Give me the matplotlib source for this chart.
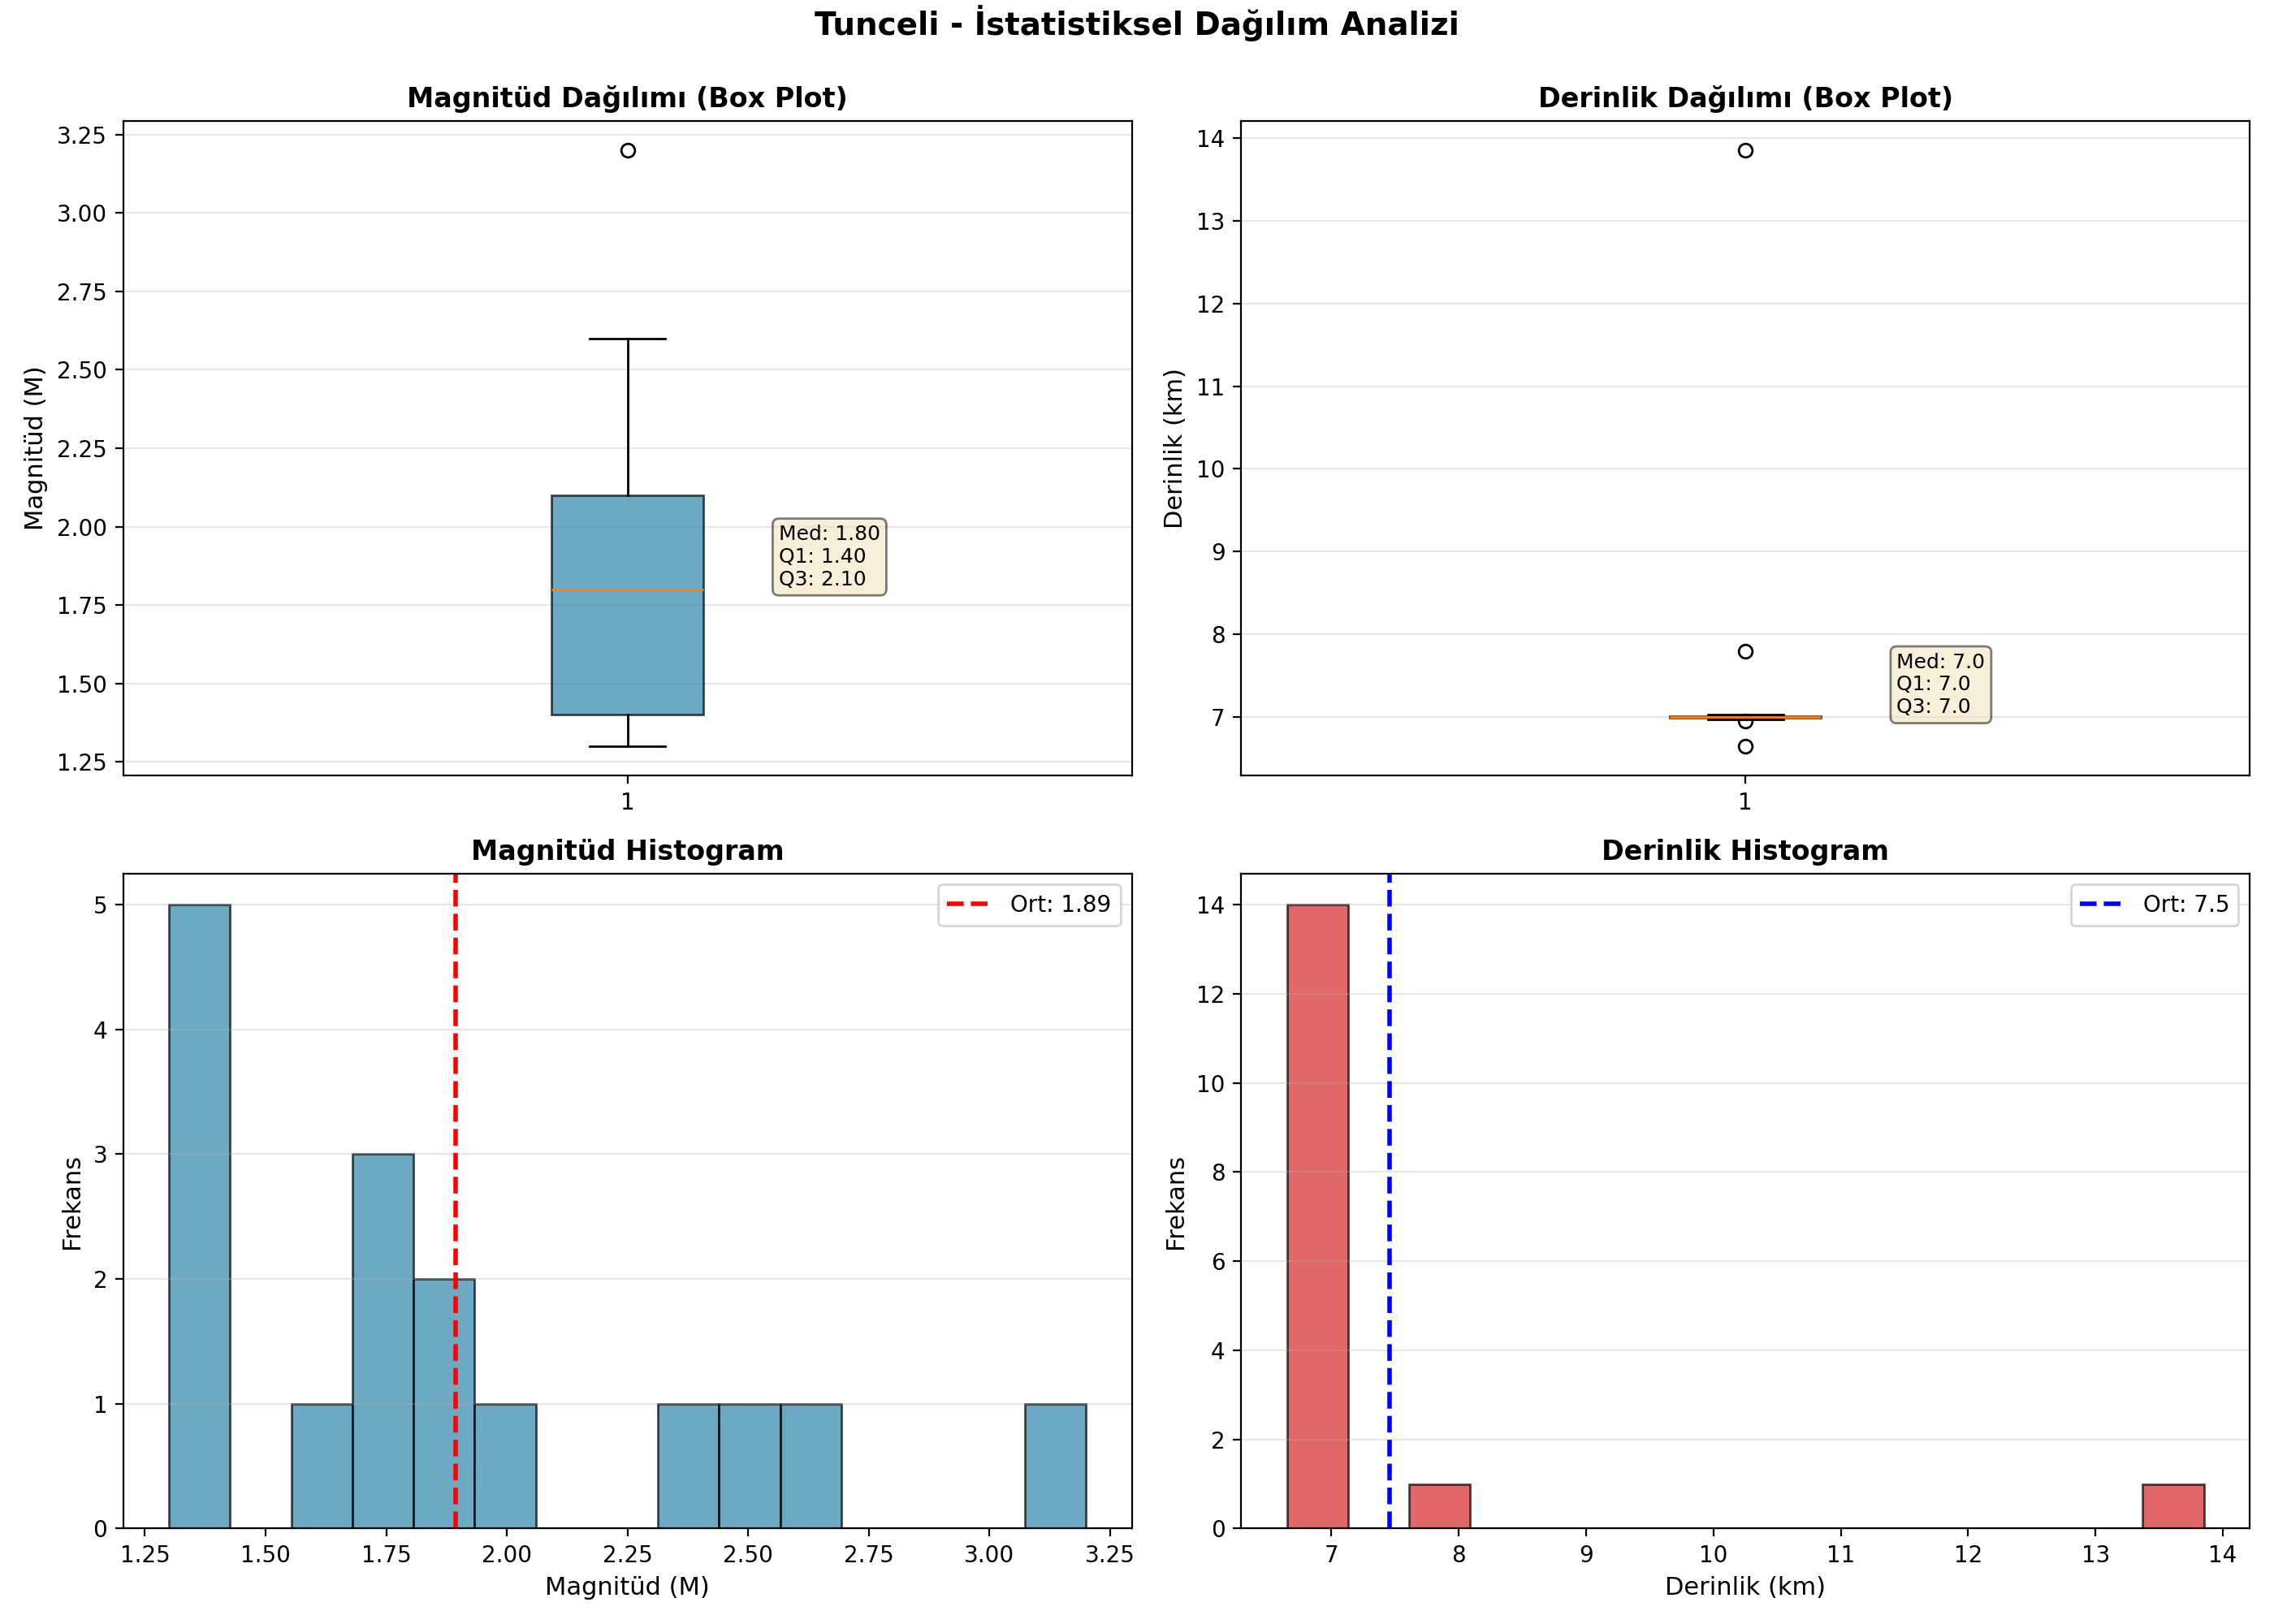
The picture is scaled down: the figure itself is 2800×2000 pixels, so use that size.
import matplotlib
matplotlib.use("Agg")
import matplotlib.pyplot as plt
import numpy as np

city = "Tunceli"
magnitudes = [1.3, 1.3, 1.4, 1.4, 1.4, 1.6, 1.8, 1.8, 1.8, 1.9, 1.9, 2.0, 2.4, 2.5, 2.6, 3.2]
depths = [6.65, 6.95, 6.97, 6.99, 6.99, 7.0, 7.0, 7.0, 7.0, 7.0, 7.0, 7.01, 7.01, 7.035, 7.8, 13.85]

mag = np.array(magnitudes)
dep = np.array(depths)

fig, axes = plt.subplots(2, 2, figsize=(14, 10), dpi=200)
st = fig.suptitle(f"{city} - İstatistiksel Dağılım Analizi", fontsize=14, fontweight="bold")

def box(ax, data, color, title, ylabel, fmt):
    bp = ax.boxplot(data, patch_artist=True, widths=0.15)
    for p in bp["boxes"]:
        p.set_facecolor(color)
        p.set_alpha(0.7)
    ax.set_title(title, fontsize=12, fontweight="bold")
    ax.set_ylabel(ylabel, fontsize=11)
    ax.grid(True, axis="y", alpha=0.3)
    q1, med, q3 = np.percentile(data, [25, 50, 75])
    ax.text(1.15, med, f"Med: {med:{fmt}}\nQ1: {q1:{fmt}}\nQ3: {q3:{fmt}}",
            fontsize=9, va="bottom", ha="left",
            bbox=dict(boxstyle="round", facecolor="wheat", alpha=0.5))

box(axes[0, 0], mag, "#2E86AB", "Magnitüd Dağılımı (Box Plot)", "Magnitüd (M)", ".2f")
box(axes[0, 1], dep, "#2E86AB", "Derinlik Dağılımı (Box Plot)", "Derinlik (km)", ".1f")

def hist(ax, data, color, lcolor, title, xlabel, fmt):
    ax.hist(data, bins=15, color=color, alpha=0.7, edgecolor="black")
    m = data.mean()
    ax.axvline(m, color=lcolor, linestyle="--", linewidth=2, label=f"Ort: {m:{fmt}}")
    ax.set_title(title, fontsize=12, fontweight="bold")
    ax.set_xlabel(xlabel, fontsize=11)
    ax.set_ylabel("Frekans", fontsize=11)
    ax.legend(loc="upper right")
    ax.grid(True, axis="y", alpha=0.3)

hist(axes[1, 0], mag, "#2E86AB", "red", "Magnitüd Histogram", "Magnitüd (M)", ".2f")
hist(axes[1, 1], dep, "#d62728", "blue", "Derinlik Histogram", "Derinlik (km)", ".1f")

plt.tight_layout()
st.set_y(0.997)
fig.savefig("out.png", dpi=200)
